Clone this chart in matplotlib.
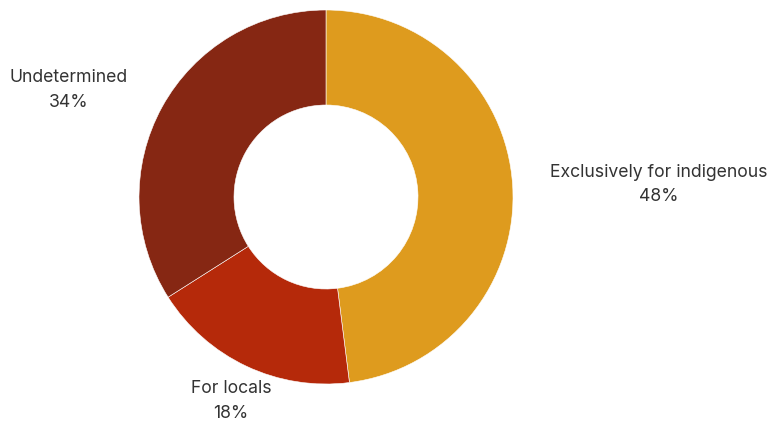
import matplotlib
matplotlib.use("Agg")
import matplotlib.pyplot as plt

categories = ["Exclusively for indigenous", "For locals", "Undetermined"]
shares = [48, 18, 34]
colors = ["#DE9B1E", "#B5290A", "#862713"]

# label anchor points (pixel space), one per category
label_x = [659, 231, 69]
label_y = [421 - 184.5, 421 - 401, 421 - 90]

W, H = 768, 421
fig = plt.figure(figsize=(W / 100, H / 100), dpi=100)
ax = fig.add_axes([0, 0, 1, 1])

ax.pie(shares, colors=colors, startangle=90, counterclock=False,
       center=(326, 224), radius=187,
       wedgeprops=dict(width=187 - 92, edgecolor="white", linewidth=0.4))

ax.set_xlim(0, W)
ax.set_ylim(0, H)
ax.set_aspect("equal")
ax.axis("off")

for cat, val, x, y in zip(categories, shares, label_x, label_y):
    ax.text(x, y, f"{cat}\n{val}%", ha="center", va="center",
            fontsize=12.7, family="Inter", color="#333333", linespacing=1.55)

fig.savefig("out.png", dpi=100)
